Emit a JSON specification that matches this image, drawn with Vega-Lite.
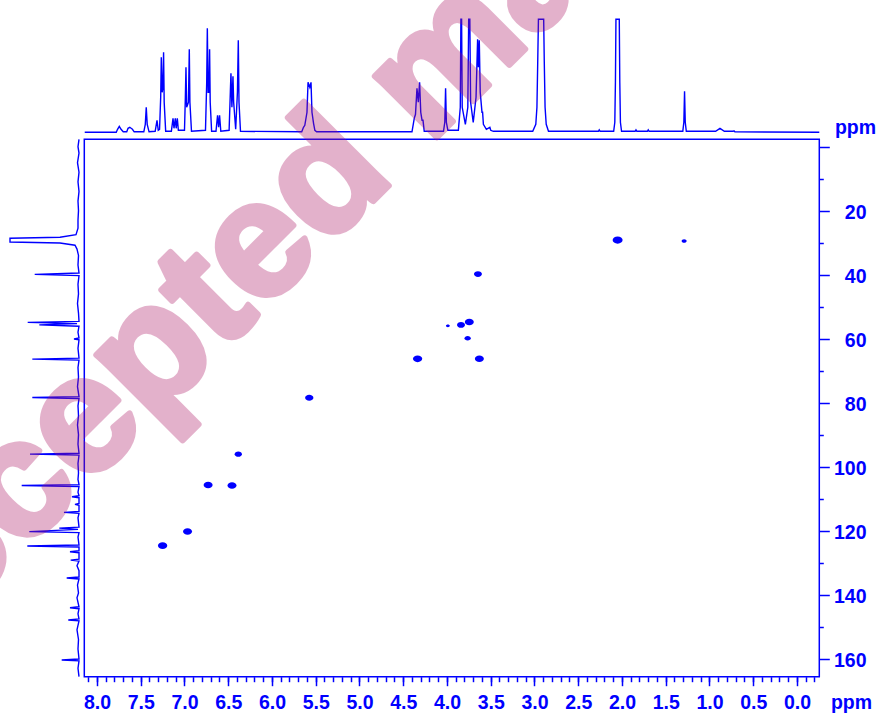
{
  "$schema": "https://vega.github.io/schema/vega-lite/v6.json",
  "width": 877,
  "height": 715,
  "autosize": {"type": "none"},
  "padding": 0,
  "background": "white",
  "config": {"view": {"stroke": null}},
  "datasets": {
    "peaks": [
      {"H": 7.25, "C": 124.7, "v": 0.86},
      {"H": 6.965, "C": 120.3, "v": 0.81},
      {"H": 6.73, "C": 105.7, "v": 0.81},
      {"H": 6.457, "C": 105.9, "v": 0.81},
      {"H": 6.385, "C": 96.1, "v": 0.53},
      {"H": 5.574, "C": 78.5, "v": 0.69},
      {"H": 4.336, "C": 66.3, "v": 0.86},
      {"H": 3.63, "C": 66.3, "v": 0.81},
      {"H": 3.646, "C": 39.8, "v": 0.64},
      {"H": 3.745, "C": 54.8, "v": 0.81},
      {"H": 3.84, "C": 55.7, "v": 0.64},
      {"H": 3.764, "C": 59.9, "v": 0.4},
      {"H": 3.99, "C": 56.0, "v": 0.15},
      {"H": 2.05, "C": 29.2, "v": 1.0},
      {"H": 1.29, "C": 29.5, "v": 0.25}
    ],
    "proton": [
      {"h": 8.14, "i": 0}, {"h": 7.78, "i": 0}, {"h": 7.765, "i": 3}, {"h": 7.745, "i": 6}, {"h": 7.725, "i": 3}, {"h": 7.7, "i": 0.5},
      {"h": 7.66, "i": 0.5}, {"h": 7.645, "i": 4}, {"h": 7.625, "i": 5}, {"h": 7.61, "i": 4}, {"h": 7.595, "i": 3}, {"h": 7.575, "i": 0.5},
      {"h": 7.465, "i": 0.5}, {"h": 7.448, "i": 8}, {"h": 7.437, "i": 25}, {"h": 7.426, "i": 8}, {"h": 7.405, "i": 0.5},
      {"h": 7.335, "i": 1}, {"h": 7.314, "i": 12}, {"h": 7.3, "i": 2},
      {"h": 7.285, "i": 3}, {"h": 7.272, "i": 35}, {"h": 7.265, "i": 75}, {"h": 7.255, "i": 40}, {"h": 7.246, "i": 45}, {"h": 7.239, "i": 80}, {"h": 7.232, "i": 30}, {"h": 7.215, "i": 1},
      {"h": 7.15, "i": 1}, {"h": 7.131, "i": 14}, {"h": 7.12, "i": 4}, {"h": 7.105, "i": 14}, {"h": 7.095, "i": 4}, {"h": 7.082, "i": 14}, {"h": 7.07, "i": 2},
      {"h": 7.0, "i": 2}, {"h": 6.99, "i": 35}, {"h": 6.983, "i": 65}, {"h": 6.975, "i": 25}, {"h": 6.955, "i": 30}, {"h": 6.945, "i": 83}, {"h": 6.938, "i": 30}, {"h": 6.92, "i": 1},
      {"h": 6.76, "i": 2}, {"h": 6.746, "i": 50}, {"h": 6.739, "i": 104}, {"h": 6.73, "i": 40}, {"h": 6.72, "i": 40}, {"h": 6.713, "i": 83}, {"h": 6.706, "i": 30}, {"h": 6.69, "i": 1},
      {"h": 6.64, "i": 1}, {"h": 6.622, "i": 17}, {"h": 6.61, "i": 5}, {"h": 6.599, "i": 17}, {"h": 6.585, "i": 1},
      {"h": 6.49, "i": 2}, {"h": 6.476, "i": 40}, {"h": 6.469, "i": 59}, {"h": 6.458, "i": 25}, {"h": 6.446, "i": 56}, {"h": 6.438, "i": 30}, {"h": 6.415, "i": 3},
      {"h": 6.395, "i": 40}, {"h": 6.385, "i": 92}, {"h": 6.377, "i": 30}, {"h": 6.36, "i": 1},
      {"h": 5.66, "i": 0.5}, {"h": 5.64, "i": 5}, {"h": 5.625, "i": 7}, {"h": 5.6, "i": 20}, {"h": 5.588, "i": 50}, {"h": 5.568, "i": 45}, {"h": 5.554, "i": 50}, {"h": 5.543, "i": 20}, {"h": 5.525, "i": 9}, {"h": 5.51, "i": 2}, {"h": 5.49, "i": 0.5},
      {"h": 4.4, "i": 0.5}, {"h": 4.374, "i": 14}, {"h": 4.36, "i": 18}, {"h": 4.343, "i": 44}, {"h": 4.328, "i": 30}, {"h": 4.313, "i": 50}, {"h": 4.3, "i": 20}, {"h": 4.285, "i": 12}, {"h": 4.274, "i": 12}, {"h": 4.26, "i": 1},
      {"h": 4.04, "i": 1}, {"h": 4.025, "i": 10}, {"h": 4.016, "i": 44}, {"h": 4.007, "i": 10}, {"h": 3.99, "i": 2},
      {"h": 3.87, "i": 2}, {"h": 3.848, "i": 25}, {"h": 3.841, "i": 113}, {"h": 3.833, "i": 113}, {"h": 3.826, "i": 25},
      {"h": 3.79, "i": 8}, {"h": 3.762, "i": 25}, {"h": 3.752, "i": 113}, {"h": 3.739, "i": 113}, {"h": 3.73, "i": 30}, {"h": 3.7, "i": 10},
      {"h": 3.668, "i": 35}, {"h": 3.65, "i": 93}, {"h": 3.641, "i": 65}, {"h": 3.631, "i": 92}, {"h": 3.62, "i": 40}, {"h": 3.6, "i": 20}, {"h": 3.593, "i": 20}, {"h": 3.584, "i": 8},
      {"h": 3.55, "i": 3}, {"h": 3.51, "i": 5}, {"h": 3.5, "i": 2}, {"h": 3.47, "i": 1},
      {"h": 3.02, "i": 1}, {"h": 2.985, "i": 8}, {"h": 2.972, "i": 25}, {"h": 2.963, "i": 70}, {"h": 2.955, "i": 113}, {"h": 2.895, "i": 113}, {"h": 2.888, "i": 70}, {"h": 2.879, "i": 25}, {"h": 2.866, "i": 8}, {"h": 2.84, "i": 1},
      {"h": 2.27, "i": 1}, {"h": 2.26, "i": 2.5}, {"h": 2.25, "i": 1},
      {"h": 2.095, "i": 1}, {"h": 2.082, "i": 10}, {"h": 2.075, "i": 50}, {"h": 2.069, "i": 113}, {"h": 2.031, "i": 113}, {"h": 2.025, "i": 50}, {"h": 2.018, "i": 10}, {"h": 2.005, "i": 1},
      {"h": 1.85, "i": 1}, {"h": 1.84, "i": 2.5}, {"h": 1.83, "i": 1},
      {"h": 1.71, "i": 1}, {"h": 1.7, "i": 2.5}, {"h": 1.69, "i": 1},
      {"h": 1.305, "i": 1}, {"h": 1.293, "i": 10}, {"h": 1.285, "i": 41}, {"h": 1.277, "i": 10}, {"h": 1.265, "i": 1},
      {"h": 0.93, "i": 1}, {"h": 0.88, "i": 4}, {"h": 0.83, "i": 1},
      {"h": 0.73, "i": 1}, {"h": 0.72, "i": 1.5}, {"h": 0.71, "i": 0.5},
      {"h": -0.255, "i": 0}
    ],
    "carbon": [
      {"c": -2.3, "i": 1}, {"c": 0, "i": 2}, {"c": 2, "i": 1}, {"c": 5, "i": 2.5}, {"c": 8, "i": 1}, {"c": 11, "i": 2}, {"c": 14, "i": 1}, {"c": 17, "i": 2}, {"c": 20, "i": 1.5}, {"c": 23, "i": 2},
      {"c": 25.5, "i": 2}, {"c": 27.5, "i": 4}, {"c": 28.3, "i": 20}, {"c": 28.6, "i": 70}, {"c": 29.8, "i": 70}, {"c": 30.1, "i": 20}, {"c": 30.8, "i": 5}, {"c": 32, "i": 3}, {"c": 34, "i": 1.5}, {"c": 37, "i": 2},
      {"c": 39.5, "i": 1}, {"c": 39.9, "i": 45.3}, {"c": 40.3, "i": 1}, {"c": 43, "i": 2}, {"c": 46, "i": 1.5}, {"c": 49, "i": 2.5}, {"c": 52, "i": 1.5},
      {"c": 54.6, "i": 1}, {"c": 54.9, "i": 52.3}, {"c": 55.3, "i": 3}, {"c": 55.7, "i": 40.7}, {"c": 56.1, "i": 1}, {"c": 58, "i": 2},
      {"c": 59.8, "i": 1}, {"c": 60.1, "i": 6}, {"c": 60.4, "i": 1}, {"c": 63, "i": 2},
      {"c": 66.1, "i": 1}, {"c": 66.4, "i": 47.7}, {"c": 66.7, "i": 1}, {"c": 69, "i": 2}, {"c": 72, "i": 1.5}, {"c": 75, "i": 2.5},
      {"c": 78.1, "i": 1}, {"c": 78.4, "i": 47.7}, {"c": 78.7, "i": 1}, {"c": 81, "i": 2}, {"c": 84, "i": 1.5}, {"c": 87, "i": 2.5}, {"c": 90, "i": 1.5}, {"c": 93, "i": 2},
      {"c": 95.8, "i": 1}, {"c": 96.1, "i": 50}, {"c": 96.4, "i": 1}, {"c": 99, "i": 2}, {"c": 102, "i": 1.5}, {"c": 104, "i": 2},
      {"c": 105.6, "i": 1}, {"c": 105.9, "i": 58.3}, {"c": 106.2, "i": 1}, {"c": 108, "i": 2},
      {"c": 109.1, "i": 1}, {"c": 109.4, "i": 8}, {"c": 109.7, "i": 1}, {"c": 111.5, "i": 1}, {"c": 111.8, "i": 5}, {"c": 112.1, "i": 1},
      {"c": 114, "i": 1}, {"c": 114.3, "i": 16}, {"c": 114.6, "i": 1}, {"c": 116, "i": 2},
      {"c": 118.9, "i": 1}, {"c": 119.2, "i": 20.7}, {"c": 119.6, "i": 2}, {"c": 120.3, "i": 50.7}, {"c": 120.6, "i": 1}, {"c": 122, "i": 2},
      {"c": 124.5, "i": 1}, {"c": 124.8, "i": 52.7}, {"c": 125.1, "i": 1}, {"c": 126.3, "i": 1}, {"c": 126.6, "i": 10}, {"c": 126.9, "i": 1},
      {"c": 128.9, "i": 1}, {"c": 129.2, "i": 9.3}, {"c": 129.5, "i": 1}, {"c": 131, "i": 3}, {"c": 132.5, "i": 1},
      {"c": 134.5, "i": 1}, {"c": 134.8, "i": 13.3}, {"c": 135.1, "i": 1}, {"c": 137, "i": 2.5}, {"c": 139.5, "i": 1.5}, {"c": 141, "i": 3},
      {"c": 143.8, "i": 1}, {"c": 144.1, "i": 10}, {"c": 144.4, "i": 1}, {"c": 146, "i": 2},
      {"c": 147.6, "i": 1}, {"c": 147.9, "i": 11.7}, {"c": 148.2, "i": 1}, {"c": 151, "i": 3}, {"c": 154, "i": 1.5}, {"c": 157, "i": 2},
      {"c": 160.1, "i": 1}, {"c": 160.4, "i": 18.3}, {"c": 160.7, "i": 1}, {"c": 163, "i": 2}, {"c": 165.6, "i": 1}
    ]
  },
  "resolve": {
    "scale": {"x": "independent", "y": "independent", "size": "independent"},
    "axis": {"x": "independent", "y": "independent"}
  },
  "layer": [
    {
      "data": {"values": [{}]},
      "mark": {"type": "rect", "fillOpacity": 0, "stroke": "#0000ff", "strokeWidth": 1.5},
      "encoding": {
        "x": {"datum": 8.145, "type": "quantitative",
          "scale": {"domain": [8.145, -0.255], "range": [84.3, 819.3], "zero": false, "nice": false},
          "axis": {"orient": "bottom", "offset": -38.3, "labels": false, "domain": false, "grid": false, "ticks": true, "tickSize": 5, "tickWidth": 1.5, "tickColor": "#0000ff", "title": null,
            "values": [8.1, 8.0, 7.9, 7.8, 7.7, 7.6, 7.5, 7.4, 7.3, 7.2, 7.1, 7.0, 6.9, 6.8, 6.7, 6.6, 6.5, 6.4, 6.3, 6.2, 6.1, 6.0, 5.9, 5.8, 5.7, 5.6, 5.5, 5.4, 5.3, 5.2, 5.1, 5.0, 4.9, 4.8, 4.7, 4.6, 4.5, 4.4, 4.3, 4.2, 4.1, 4.0, 3.9, 3.8, 3.7, 3.6, 3.5, 3.4, 3.3, 3.2, 3.1, 3.0, 2.9, 2.8, 2.7, 2.6, 2.5, 2.4, 2.3, 2.2, 2.1, 2.0, 1.9, 1.8, 1.7, 1.6, 1.5, 1.4, 1.3, 1.2, 1.1, 1.0, 0.9, 0.8, 0.7, 0.6, 0.5, 0.4, 0.3, 0.2, 0.1, 0.0, -0.1, -0.2]}},
        "x2": {"datum": -0.255},
        "y": {"datum": -2.3, "type": "quantitative",
          "scale": {"domain": [-2.3, 165.64], "range": [139.3, 676.7], "zero": false, "nice": false},
          "axis": {"orient": "right", "offset": -57.7, "labels": false, "domain": false, "grid": false, "ticks": true, "tickSize": 4, "tickWidth": 1.5, "tickColor": "#0000ff", "title": null,
            "values": [10, 30, 50, 70, 90, 110, 130, 150]}},
        "y2": {"datum": 165.64}
      }
    },
    {
      "data": {"name": "peaks"},
      "mark": {"type": "point", "filled": true, "opacity": 1, "color": "#0000ff", "strokeWidth": 0,
        "shape": "M-1,0A1,0.72 0 1,0 1,0A1,0.72 0 1,0 -1,0Z"},
      "encoding": {
        "x": {"field": "H", "type": "quantitative",
          "scale": {"domain": [8.145, -0.255], "range": [84.3, 819.3], "zero": false, "nice": false},
          "axis": {"orient": "bottom", "offset": -38.3, "domain": false, "grid": false, "ticks": true, "tickSize": 9, "tickWidth": 1.5, "tickColor": "#0000ff",
            "values": [8, 7.5, 7, 6.5, 6, 5.5, 5, 4.5, 4, 3.5, 3, 2.5, 2, 1.5, 1, 0.5, 0], "format": ".1f",
            "labelColor": "#0000ff", "labelFont": "Liberation Sans", "labelFontWeight": "bold", "labelFontSize": 19.5,
            "labelBaseline": "alphabetic", "labelPadding": 22.3, "labelFlush": false, "labelOverlap": false,
            "title": "ppm", "titleX": 851, "titleY": 31.3, "titleAngle": 0, "titleAlign": "center", "titleBaseline": "alphabetic",
            "titleColor": "#0000ff", "titleFont": "Liberation Sans", "titleFontWeight": "bold", "titleFontSize": 19.5}},
        "y": {"field": "C", "type": "quantitative",
          "scale": {"domain": [-2.3, 165.64], "range": [139.3, 676.7], "zero": false, "nice": false},
          "axis": {"orient": "right", "offset": -57.7, "domain": false, "grid": false, "ticks": true, "tickSize": 10, "tickWidth": 1.5, "tickColor": "#0000ff",
            "values": [0, 20, 40, 60, 80, 100, 120, 140, 160], "labelExpr": "datum.value == 0 ? '' : datum.label",
            "labelColor": "#0000ff", "labelFont": "Liberation Sans", "labelFontWeight": "bold", "labelFontSize": 19.5,
            "labelAlign": "right", "labelBaseline": "alphabetic", "labelOffset": 7.5, "labelPadding": 36.7, "labelFlush": false, "labelOverlap": false,
            "title": "ppm", "titleX": 35.7, "titleY": 133.3, "titleAngle": 0, "titleAlign": "center", "titleBaseline": "alphabetic",
            "titleColor": "#0000ff", "titleFont": "Liberation Sans", "titleFontWeight": "bold", "titleFontSize": 19.5}},
        "size": {"field": "v", "type": "quantitative", "scale": {"domain": [0, 1], "range": [0, 100], "zero": true}, "legend": null}
      }
    },
    {
      "data": {"name": "proton"},
      "mark": {"type": "line", "color": "#0000ff", "strokeWidth": 1.4},
      "encoding": {
        "x": {"field": "h", "type": "quantitative",
          "scale": {"domain": [8.145, -0.255], "range": [84.3, 819.3], "zero": false, "nice": false}, "axis": null},
        "y": {"field": "i", "type": "quantitative",
          "scale": {"domain": [0, 113], "range": [132.3, 19.3], "zero": false, "nice": false}, "axis": null}
      }
    },
    {
      "data": {"name": "carbon"},
      "mark": {"type": "line", "color": "#0000ff", "strokeWidth": 1.4},
      "encoding": {
        "x": {"field": "i", "type": "quantitative",
          "scale": {"domain": [0, 70], "range": [80, 10], "zero": false, "nice": false}, "axis": null},
        "y": {"field": "c", "type": "quantitative",
          "scale": {"domain": [-2.3, 165.64], "range": [139.3, 676.7], "zero": false, "nice": false}, "axis": null},
        "order": {"field": "c", "type": "quantitative"}
      }
    },
    {
      "data": {"values": [{}]},
      "mark": {"type": "text", "text": "Accepted manuscript", "font": "Liberation Sans", "fontWeight": "bold", "fontSize": 165,
        "angle": -45, "align": "center", "baseline": "alphabetic", "fill": "#AD1664", "stroke": "#AD1664", "strokeWidth": 6, "strokeJoin": "round", "opacity": 0.33},
      "encoding": {
        "x": {"datum": 3.8, "type": "quantitative",
          "scale": {"domain": [8.145, -0.255], "range": [84.3, 819.3], "zero": false, "nice": false}, "axis": null},
        "y": {"datum": -11.5, "type": "quantitative",
          "scale": {"domain": [-2.3, 165.64], "range": [139.3, 676.7], "zero": false, "nice": false}, "axis": null}
      }
    }
  ]
}
